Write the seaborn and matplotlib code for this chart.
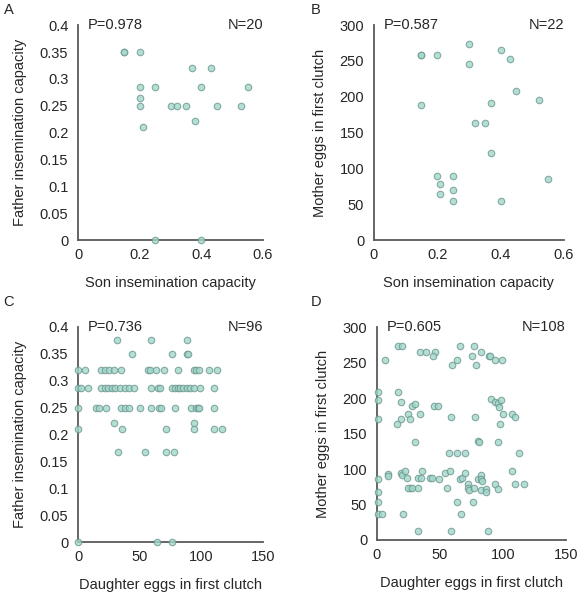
import matplotlib
matplotlib.use("Agg")
import matplotlib.pyplot as plt
import seaborn as sns
import pandas as pd

# Panel A: son insemination capacity vs father insemination capacity
a_son = [0.15, 0.15, 0.20, 0.37, 0.43, 0.20, 0.25, 0.40, 0.55, 0.20, 0.20, 0.30, 0.32,
         0.35, 0.45, 0.53, 0.38, 0.21, 0.25, 0.40]
a_father = [0.35, 0.35, 0.35, 0.32, 0.32, 0.2857, 0.2857, 0.2857, 0.2857, 0.2647, 0.25, 0.25,
            0.25, 0.25, 0.25, 0.25, 0.2222, 0.2105, 0.0, 0.0]

# Panel B: son insemination capacity vs mother eggs
b_son = [0.15, 0.15, 0.20, 0.30, 0.30, 0.40, 0.43, 0.45, 0.52, 0.37, 0.15, 0.32, 0.35,
         0.37, 0.20, 0.25, 0.21, 0.25, 0.21, 0.25, 0.40, 0.55]
b_mother = [259, 259, 259, 273, 246, 265, 253, 208, 195, 192, 188, 163, 163,
            121, 89, 89, 79, 70, 65, 54, 54, 85]

# Panel C: daughter eggs vs father insemination capacity
c_daughter = [32, 59, 88,
              44, 76, 88, 89.5,
              0, 6, 19, 22, 25.5, 29, 35, 57, 58, 63, 70, 81, 94, 96, 98, 106, 113,
              0, 2.5, 8, 19, 21.5, 24, 27.5, 30, 34, 38, 41, 45, 59, 65, 66.5, 76, 79,
              81, 82.5, 85, 88, 91, 94, 98.5, 110,
              0, 14.5, 17, 23, 34.5, 38, 41.5, 50.5, 59, 66, 67.5, 78.5, 91.5, 95.5, 97,
              98, 110,
              29.5, 94,
              0, 35.5, 71.5, 94, 110, 116.5,
              32.5, 54.5, 71.5, 77.5,
              0, 64, 76]
c_father = [0.375] * 3 + [0.35] * 4 + [0.32] * 17 + [0.2857] * 25 + [0.25] * 17 + \
           [0.2222] * 2 + [0.2105] * 6 + [0.1667] * 4 + [0.0] * 3

# Panel D: daughter eggs vs mother eggs
d_daughter = [17, 20, 6.5, 34, 39, 46.5, 44.5, 66, 60, 64, 77, 75.5, 82.5, 79, 89, 90,
              94, 99.5,
              0.5, 0.5, 17, 19, 28, 30.5, 45, 48.5, 25, 34, 19, 16, 26.5, 0.5, 59, 78,
              90.5, 94, 96.5, 97, 99, 100, 107, 109.5, 98, 30.5, 80.5, 81.5, 96, 57.5,
              64, 70, 113,
              0.5, 8.5, 8.5, 19, 20, 22, 24, 26, 25, 27.5, 32.5, 35, 35.5, 33, 42, 43.5,
              49, 54.5, 58, 55.5, 66, 67.5, 70, 72.5, 72, 73.5, 77, 80.5, 82.5, 83, 83.5,
              82.5, 86.5, 87, 94, 96.5, 107.5, 109.5, 116.5, 0.5, 0.5, 64, 76, 0.5, 4,
              20.5, 67, 32.5, 59, 88]
d_mother = [273, 273, 253, 265, 265, 265, 259, 273, 246, 253, 273, 259, 265, 246, 259,
            259, 253, 253,
            208, 197, 208, 195, 189, 192, 189, 189, 178, 178, 170, 164, 170, 170, 173,
            173, 198, 195, 193, 188, 197, 178, 178, 173, 164, 138, 139, 138, 138, 122,
            122, 122, 122,
            86, 93, 90, 95, 91, 97, 87, 73, 73, 73, 87, 87, 97, 73, 87, 87, 86, 94, 97,
            73, 86, 87, 94, 79, 73, 71, 73, 86, 91, 86, 83, 70, 72, 68, 79, 72, 97, 79,
            79, 67, 54, 54, 54, 36, 36, 36, 36, 13, 13, 13]

panels = [
    ("A", a_son, a_father, "P=0.978", "N=20", "Son insemination capacity",
     "Father insemination capacity", (0, 0.6, 0.2), (0, 0.4, 0.05)),
    ("B", b_son, b_mother, "P=0.587", "N=22", "Son insemination capacity",
     "Mother eggs in first clutch", (0, 0.6, 0.2), (0, 300, 50)),
    ("C", c_daughter, c_father, "P=0.736", "N=96", "Daughter eggs in first clutch",
     "Father insemination capacity", (0, 150, 50), (0, 0.4, 0.05)),
    ("D", d_daughter, d_mother, "P=0.605", "N=108", "Daughter eggs in first clutch",
     "Mother eggs in first clutch", (0, 150, 50), (0, 300, 50)),
]

# axes boxes in figure fractions [left, bottom, width, height]
boxes = [
    [0.1327, 0.595, 0.3146, 0.3626],
    [0.636, 0.595, 0.323, 0.3626],
    [0.1327, 0.086, 0.3146, 0.3626],
    [0.641, 0.0894, 0.321, 0.359],
]
letter_pos = [(0.006, 0.995), (0.528, 0.995), (0.006, 0.502), (0.528, 0.502)]

sns.set_style("white")
plt.rcParams["font.family"] = ["Liberation Sans", "DejaVu Sans"]
plt.rcParams["font.size"] = 10.5

fig = plt.figure(figsize=(5.88, 5.93), dpi=100)

spine_col = "#595959"

for (letter, xs, ys, ptxt, ntxt, xlab, ylab, xr, yr), box, lp in zip(panels, boxes, letter_pos):
    ax = fig.add_axes(box)
    df = pd.DataFrame({"x": xs, "y": ys})
    sns.scatterplot(data=df, x="x", y="y", ax=ax, s=22, color="#a2d8cb", alpha=0.8,
                    edgecolor="#6e9790", linewidth=0.8, clip_on=False, zorder=3)
    ax.set_xlim(xr[0], xr[1])
    ax.set_ylim(yr[0], yr[1])
    xt = [xr[0] + i * xr[2] for i in range(int(round((xr[1] - xr[0]) / xr[2])) + 1)]
    yt = [yr[0] + i * yr[2] for i in range(int(round((yr[1] - yr[0]) / yr[2])) + 1)]
    ax.set_xticks(xt)
    ax.set_yticks(yt)
    ax.set_xticklabels([f"{v:g}" for v in xt])
    ax.set_yticklabels([f"{round(v, 2):g}" for v in yt])
    for side in ["top", "right"]:
        ax.spines[side].set_visible(False)
    for side in ["left", "bottom"]:
        ax.spines[side].set_color(spine_col)
        ax.spines[side].set_linewidth(1.3)
    ax.tick_params(axis="y", direction="out", length=4, width=1.1, color=spine_col, pad=3)
    ax.tick_params(axis="x", direction="in", length=4, width=1.1, color=spine_col, pad=6)
    ax.set_xlabel(xlab, labelpad=10)
    ax.set_ylabel(ylab, labelpad=9)
    ax.text(0.05, 1.0, ptxt, transform=ax.transAxes, va="center", ha="left")
    ax.text(1.0, 1.0, ntxt, transform=ax.transAxes, va="center", ha="right")
    fig.text(lp[0], lp[1], letter, va="top", ha="left")

fig.savefig("out.png", dpi=100)
